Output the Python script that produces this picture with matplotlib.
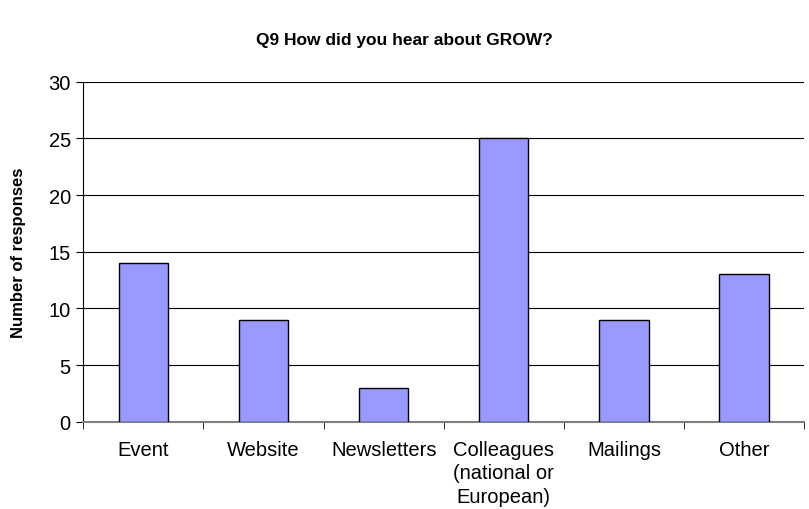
import matplotlib
matplotlib.use("Agg")
from matplotlib import pyplot as plt
import numpy as np

categories = ["Event", "Website", "Newsletters", "Colleagues\n(national or\nEuropean)", "Mailings", "Other"]
responses = [14, 9, 3, 25, 9, 13]
yticks = [0, 5, 10, 15, 20, 25, 30]

plt.rcParams['font.family'] = ['Liberation Sans', 'DejaVu Sans']

fig = plt.figure(figsize=(8.09, 5.10), dpi=100)
ax = fig.add_axes([0.103, 0.171, 0.891, 0.667])

x = np.arange(len(categories))
ax.bar(x, responses, width=0.41, color="#9999FF", edgecolor="black", linewidth=1, zorder=3)

ax.set_xlim(-0.5, len(categories) - 0.5)
ax.set_ylim(0, 30)
ax.set_yticks(yticks)
ax.yaxis.grid(True, color="black", linewidth=0.8, zorder=0)

ax.set_xticks(x)
ax.set_xticklabels(categories, fontsize=14.5, va="top", linespacing=1.3)
ax.set_xticks(np.arange(len(categories) + 1) - 0.5, minor=True)
ax.tick_params(axis="x", which="major", length=0, pad=13)
ax.tick_params(axis="x", which="minor", length=5, color="black", direction="out")
ax.tick_params(axis="y", length=5, labelsize=14.5, pad=4)

ax.spines["top"].set_visible(False)
ax.spines["right"].set_visible(False)
ax.spines["bottom"].set_color("#808080")
ax.spines["bottom"].set_linewidth(1.5)
ax.spines["left"].set_color("black")

ax.set_ylabel("Number of responses", fontsize=12, fontweight="bold", labelpad=16)
fig.text(0.5, 0.92, "Q9 How did you hear about GROW?", ha="center", va="center",
         fontsize=12.5, fontweight="bold")

fig.savefig("out.png", dpi=100)
